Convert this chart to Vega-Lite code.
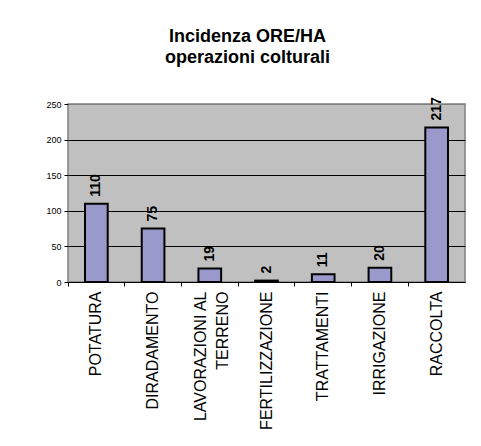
{
  "$schema": "https://vega.github.io/schema/vega-lite/v6.json",
  "autosize": {"type": "none"},
  "width": 397,
  "height": 178,
  "padding": {"left": 68, "top": 104, "right": 16, "bottom": 164},
  "background": "white",
  "title": {
    "text": ["Incidenza ORE/HA", "operazioni colturali"],
    "font": "Liberation Sans",
    "fontSize": 18,
    "fontWeight": "bold",
    "color": "black",
    "lineHeight": 21,
    "anchor": "middle",
    "frame": "bounds",
    "dx": -8,
    "offset": 30
  },
  "data": {
    "values": [
      {"operazione": "POTATURA", "ore": 110},
      {"operazione": "DIRADAMENTO", "ore": 75},
      {"operazione": "LAVORAZIONI AL TERRENO", "ore": 19},
      {"operazione": "FERTILIZZAZIONE", "ore": 2},
      {"operazione": "TRATTAMENTI", "ore": 11},
      {"operazione": "IRRIGAZIONE", "ore": 20},
      {"operazione": "RACCOLTA", "ore": 217}
    ]
  },
  "encoding": {
    "x": {
      "field": "operazione",
      "type": "nominal",
      "sort": null,
      "scale": {"paddingInner": 0, "paddingOuter": 0},
      "axis": {
        "title": null,
        "labelAngle": 270,
        "labelAlign": "right",
        "labelBaseline": "middle",
        "labelFont": "Liberation Sans",
        "labelFontSize": 16,
        "labelColor": "black",
        "labelPadding": 5,
        "labelLimit": 0,
        "labelLineHeight": 22,
        "labelOffset": {"condition": {"test": "datum.label == 'LAVORAZIONI AL TERRENO'", "value": -9}, "value": 0},
        "labelExpr": "datum.label == 'LAVORAZIONI AL TERRENO' ? ['LAVORAZIONI AL', 'TERRENO'] : datum.label",
        "bandPosition": 0,
        "ticks": true,
        "tickSize": 4,
        "tickColor": "black",
        "tickWidth": 1,
        "domain": true,
        "domainColor": "black",
        "domainWidth": 1,
        "grid": false
      }
    },
    "y": {
      "field": "ore",
      "type": "quantitative",
      "scale": {"domain": [0, 250], "nice": false},
      "axis": {
        "title": null,
        "values": [0, 50, 100, 150, 200, 250],
        "labelFont": "Liberation Sans",
        "labelFontSize": 9,
        "labelColor": "black",
        "labelPadding": 3,
        "tickSize": 4,
        "tickColor": "black",
        "domain": false,
        "grid": true,
        "gridColor": {"condition": {"test": "datum.value == 250", "value": "#808080"}, "value": "black"},
        "gridWidth": 1
      }
    }
  },
  "layer": [
    {
      "mark": {"type": "bar", "fill": "#9999CC", "stroke": "black", "strokeWidth": 2, "width": {"band": 0.4}}
    },
    {
      "mark": {
        "type": "text",
        "angle": 270,
        "align": "left",
        "baseline": "middle",
        "dx": 7,
        "font": "Liberation Sans",
        "fontSize": 14,
        "fontWeight": "bold",
        "color": "black"
      },
      "encoding": {"text": {"field": "ore", "type": "quantitative"}}
    }
  ],
  "config": {
    "view": {"fill": "#C0C0C0", "stroke": "#808080", "strokeWidth": 1.5}
  }
}
